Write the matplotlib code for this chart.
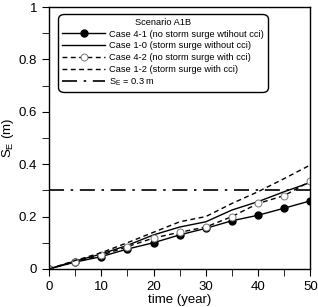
import numpy as np
import matplotlib
matplotlib.use("Agg")
import matplotlib.pyplot as plt
from matplotlib.ticker import MultipleLocator, FuncFormatter

plt.rcParams["font.family"] = ["Liberation Sans", "DejaVu Sans"]

years = [0, 5, 10, 15, 20, 25, 30, 35, 40, 45, 50]
case41 = [0, 0.026, 0.047, 0.076, 0.100, 0.130, 0.155, 0.184, 0.205, 0.232, 0.260]
case10 = [0, 0.030, 0.057, 0.090, 0.130, 0.160, 0.180, 0.225, 0.257, 0.295, 0.330]
case42 = [0, 0.028, 0.052, 0.085, 0.118, 0.140, 0.160, 0.200, 0.250, 0.280, 0.335]
case12 = [0, 0.032, 0.062, 0.100, 0.140, 0.180, 0.200, 0.250, 0.295, 0.345, 0.397]
se_limit = 0.3

fig = plt.figure(figsize=(3.18, 3.07), dpi=100)
ax = fig.add_axes([0.154, 0.124, 0.822, 0.853])

ax.plot(years, case41, "-", color="black", lw=1.0, marker="o", ms=5,
        label="Case 4-1 (no storm surge wtihout cci)")
ax.plot(years, case10, "-", color="black", lw=1.0,
        label="Case 1-0 (storm surge without cci)")
ax.plot(years, case42, "--", color="black", lw=1.0, marker="o", ms=5,
        mfc="white", mec="#777777", mew=0.7, dashes=(3.5, 2.5),
        label="Case 4-2 (no storm surge with cci)")
ax.plot(years, case12, "--", color="black", lw=1.0, dashes=(3.5, 2.5),
        label="Case 1-2 (storm surge with cci)")
ax.axhline(se_limit, color="black", lw=1.2, dashes=(9, 4, 1.5, 4),
           label="S$_\\mathregular{E}$ = 0.3 m")

ax.set_xlim(0, 50)
ax.set_ylim(0, 1)
ax.xaxis.set_major_locator(MultipleLocator(10))
ax.xaxis.set_minor_locator(MultipleLocator(5))
ax.yaxis.set_major_locator(MultipleLocator(0.2))
ax.yaxis.set_minor_locator(MultipleLocator(0.1))
ax.yaxis.set_major_formatter(FuncFormatter(
    lambda v, p: "0" if abs(v) < 1e-9 else ("1" if abs(v - 1) < 1e-9 else f"{v:.1f}")))
ax.tick_params(which="both", direction="out", top=False, right=False,
               labelsize=9.5, length=5)
for s in ax.spines.values():
    s.set_linewidth(1.0)

ax.set_xlabel("time (year)", fontsize=9.5, labelpad=1)
ax.set_ylabel("S$_\\mathregular{E}$ (m)", fontsize=9.5, labelpad=2)

leg = ax.legend(title="Scenario A1B", loc="upper left", bbox_to_anchor=(0.035, 0.975),
                fontsize=6.7, title_fontsize=6.7, frameon=True, fancybox=True,
                edgecolor="black", handlelength=4.6, handletextpad=0.4,
                labelspacing=0.3, borderpad=0.45, borderaxespad=0)
leg.get_frame().set_linewidth(1.0)
leg.get_frame().set_alpha(1)
leg.get_frame().set_boxstyle("round", pad=0.0, rounding_size=0.6)

fig.savefig("out.png", dpi=100)
